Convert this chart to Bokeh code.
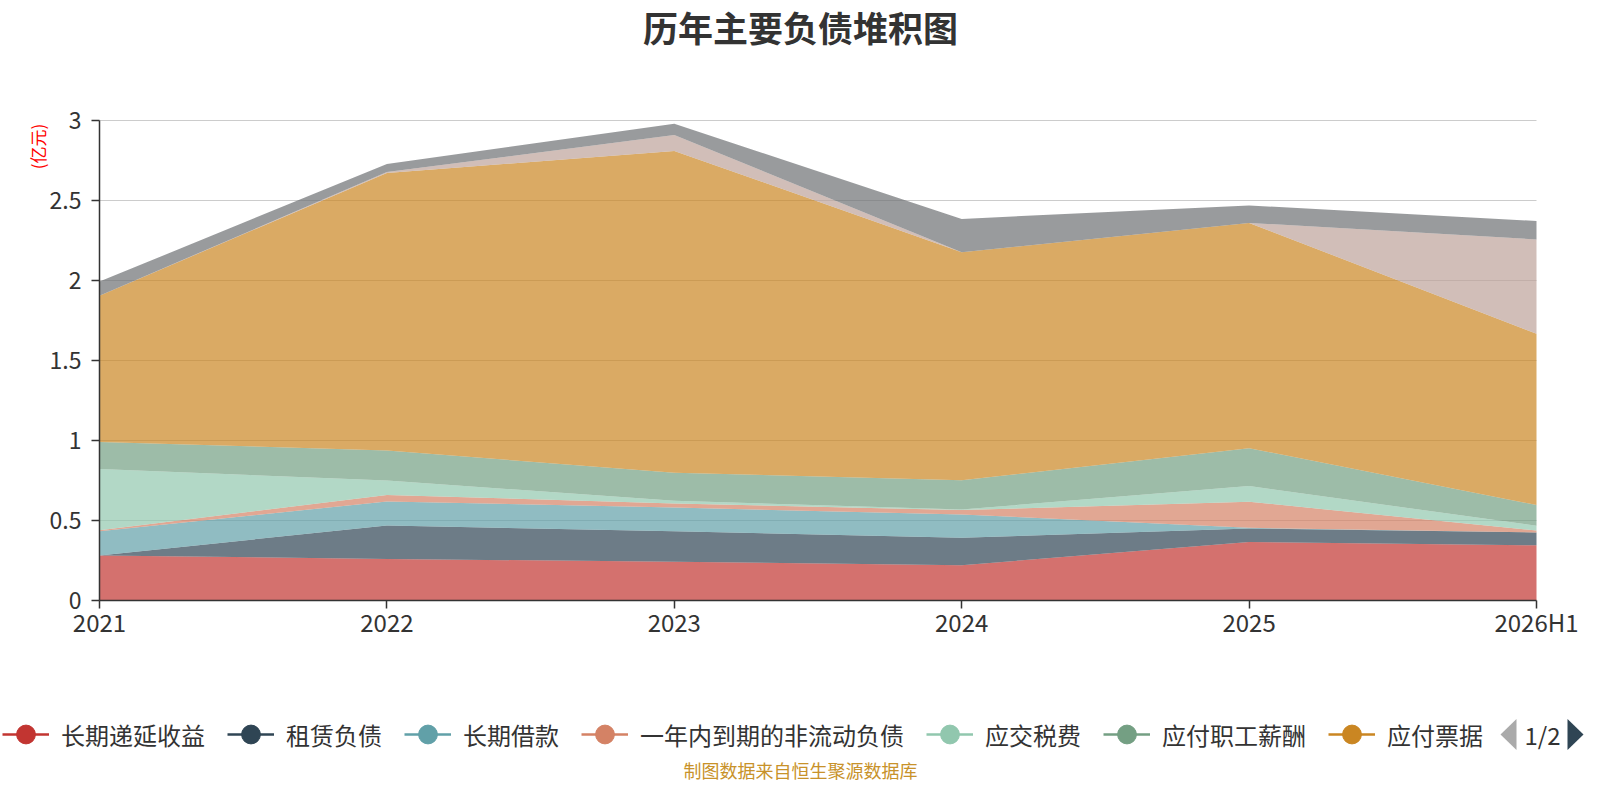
import math
from bokeh.plotting import figure
from bokeh.models import (ColumnDataSource, Range1d, FixedTicker, NumeralTickFormatter,
                          LinearAxis, Label, Legend, LegendItem, PolyAnnotation)
from bokeh.embed import file_html
from bokeh.resources import INLINE

# ---------------- data (亿元) ----------------
years = ["2021", "2022", "2023", "2024", "2025", "2026H1"]
deferred_income = [0.281, 0.260, 0.242, 0.221, 0.365, 0.345]      # 长期递延收益
lease_liab = [0.000, 0.209, 0.191, 0.171, 0.085, 0.080]           # 租赁负债
long_loans = [0.152, 0.150, 0.148, 0.146, 0.004, 0.000]           # 长期借款
current_noncur = [0.006, 0.041, 0.025, 0.027, 0.163, 0.012]       # 一年内到期的非流动负债
taxes_payable = [0.383, 0.090, 0.017, 0.004, 0.098, 0.030]        # 应交税费
payroll_payable = [0.169, 0.1875, 0.175, 0.183, 0.237, 0.130]     # 应付职工薪酬
notes_payable = [0.914, 1.735, 2.012, 1.425, 1.408, 1.070]        # 应付票据
accounts_payable = [0.000, 0.005, 0.100, 0.000, 0.000, 0.590]     # 应付账款 (legend page 2)
other_payable = [0.088, 0.051, 0.069, 0.208, 0.109, 0.115]        # 其他应付款 (legend page 2)

names = ["长期递延收益", "租赁负债", "长期借款", "一年内到期的非流动负债", "应交税费",
         "应付职工薪酬", "应付票据", "应付账款", "其他应付款"]
series = [deferred_income, lease_liab, long_loans, current_noncur, taxes_payable,
          payroll_payable, notes_payable, accounts_payable, other_payable]
colors = ["#c23531", "#2f4554", "#61a0a8", "#d48265", "#91c7ae",
          "#749f83", "#ca8622", "#bda29a", "#6e7074"]
y_ticks = [0, 0.5, 1, 1.5, 2, 2.5, 3]
y_max = 3

FONT = "Noto Sans CJK SC"
TXT = "#333333"

# ---------------- layout (pixels) ----------------
W, H = 1584, 784
PL, PR, PT, PB = 99, 1536, 120, 600        # plot area in canvas pixels
n = len(years) - 1
ppx = (PR - PL) / n
ppy = (PB - PT) / y_max
x_range = Range1d(-PL / ppx, n + (W - PR) / ppx)
y_range = Range1d(-(H - PB) / ppy, PB / ppy)

data = {"x": list(range(len(years)))}
for nm, s in zip(names, series):
    data[nm] = s
source = ColumnDataSource(data)

p = figure(width=W, height=H, min_border=0, x_range=x_range, y_range=y_range,
           x_axis_location=None, y_axis_location=None, title_location=None,
           output_backend="svg", toolbar_location=None)
p.outline_line_color = None
p.background_fill_color = "white"
p.border_fill_color = "white"
p.xgrid.visible = False
p.ygrid.visible = False

# horizontal split lines (under the areas)
gl = y_ticks[1:]
p.segment(x0=[0] * len(gl), x1=[n] * len(gl), y0=gl, y1=gl,
          line_color="#cccccc", line_width=1, level="underlay")

p.varea_stack(stackers=names, x="x", color=colors, fill_alpha=0.7, source=source)

# axes at fixed positions
yax = LinearAxis(fixed_location=0, bounds=(0, y_max), ticker=FixedTicker(ticks=y_ticks),
                 formatter=NumeralTickFormatter(format="0.[0]"))
xax = LinearAxis(fixed_location=0, bounds=(0, n), ticker=FixedTicker(ticks=list(range(len(years)))))
xax.major_label_overrides = {i: y for i, y in enumerate(years)}
for ax in (xax, yax):
    ax.axis_line_color = TXT
    ax.axis_line_width = 1.5
    ax.major_tick_line_color = TXT
    ax.major_tick_line_width = 1.5
    ax.major_tick_out = 8
    ax.major_tick_in = 0
    ax.minor_tick_line_color = None
    ax.major_label_text_font = FONT
    ax.major_label_text_color = TXT
xax.major_label_text_font_size = "24px"
yax.major_label_text_font_size = "23px"
xax.major_label_standoff = -5
yax.major_label_standoff = 10
p.add_layout(yax, "left")
p.add_layout(xax, "below")

def sy(py):
    return H - py

# title
p.add_layout(Label(x=800, y=sy(25.5), x_units="screen", y_units="screen",
                   text="历年主要负债堆积图", text_font=FONT, text_font_size="35px",
                   text_font_style="bold", text_color=TXT,
                   text_align="center", text_baseline="middle"))
# unit label
p.add_layout(Label(x=37, y=sy(146), x_units="screen", y_units="screen",
                   text="(亿元)", text_font=FONT, text_font_size="17px", text_color="#ff0000",
                   angle=math.pi / 2, text_align="center", text_baseline="middle"))
# source note
p.add_layout(Label(x=800, y=sy(769), x_units="screen", y_units="screen",
                   text="制图数据来自恒生聚源数据库", text_font=FONT, text_font_size="18px",
                   text_color="#c8922a", text_align="center", text_baseline="middle"))

# legend (first page: 7 items); legend-only renderers hold points outside the view
off = ColumnDataSource(dict(x=[-100, -99], y=[-100, -100]))
items = []
for nm, c in zip(names[:7], colors[:7]):
    lr = p.line("x", "y", source=off, line_color=c, line_width=2.5)
    sr = p.scatter("x", "y", source=off, marker="circle", size=19,
                   fill_color=c, line_color=c)
    items.append(LegendItem(label=nm, renderers=[lr, sr]))
LEG_CY = 734
legend = Legend(items=items, orientation="horizontal", location=(2, sy(LEG_CY) - 25),
                glyph_width=47, glyph_height=50, label_standoff=12, spacing=22,
                padding=0, margin=0, label_text_font=FONT, label_text_font_size="24px",
                label_text_color=TXT, border_line_color=None, background_fill_alpha=0)
p.add_layout(legend)

# legend pager
p.add_layout(PolyAnnotation(xs=[1500, 1516, 1516], ys=[sy(LEG_CY), sy(LEG_CY - 15.5), sy(LEG_CY + 15.5)],
                            xs_units="screen", ys_units="screen",
                            fill_color="#aaaaaa", fill_alpha=1, line_color=None))
p.add_layout(PolyAnnotation(xs=[1567, 1567, 1583], ys=[sy(LEG_CY - 15.5), sy(LEG_CY + 15.5), sy(LEG_CY)],
                            xs_units="screen", ys_units="screen",
                            fill_color="#2f4554", fill_alpha=1, line_color=None))
p.add_layout(Label(x=1542, y=sy(LEG_CY), x_units="screen", y_units="screen",
                   text="1/2", text_font=FONT, text_font_size="24px", text_color=TXT,
                   text_align="center", text_baseline="middle"))

open("out.html", "w").write(file_html(p, INLINE))
